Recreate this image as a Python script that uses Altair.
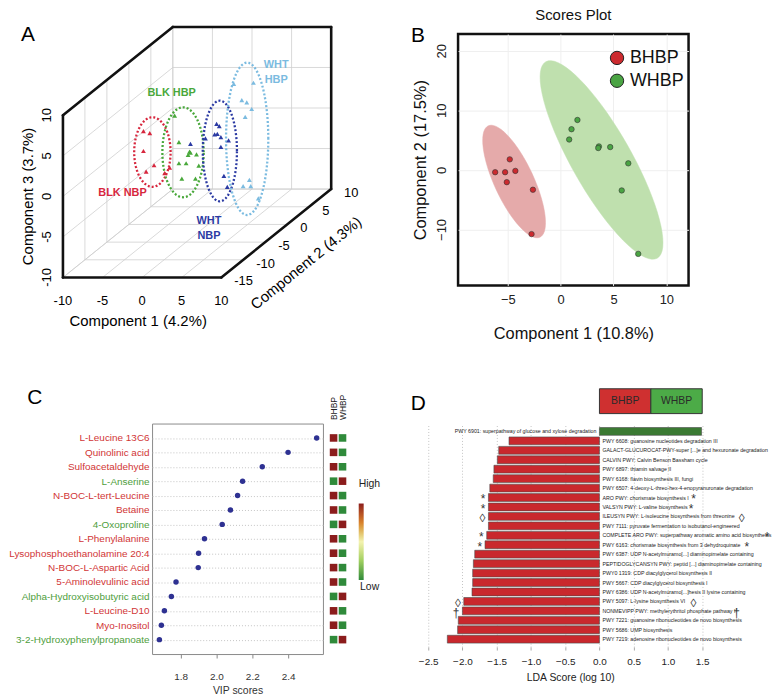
import json
import numpy as np
import pandas as pd
import altair as alt

FONT = "Liberation Sans"

# ======================= Panel A : 3-D scores =======================
a_groups = ["BLK NBP", "BLK HBP", "WHT NBP", "WHT HBP"]
a_colors = ["#d7263d", "#49a83b", "#2b3aa3", "#7bbbe0"]
a_depth = [0.0, 0.0, 0.0, 0.0]          # Component 2 (depth) of each group

a_blk_nbp_c1 = [-8.16, -7.36, -8.16, -6.82, -7.82, -5.48, -4.85]
a_blk_nbp_c3 = [1.51, 1.26, -0.94, -2.70, -3.48, -3.68, -2.99]
a_blk_hbp_c1 = [-4.22, -3.68, -2.34, -2.52, -1.46, -2.22, -3.68, -2.77, -1.17, -3.31, -1.59]
a_blk_hbp_c3 = [3.43, 0.16, -1.03, -1.43, -1.35, -1.15, -2.45, -2.45, -2.75, -4.34, -4.34]
a_wht_nbp_c1 = [-2.22, -0.33, 1.08, 1.42, 0.83, 1.17, 1.62, 1.62, 2.59, 2.00, 2.43]
a_wht_nbp_c3 = [-0.05, 0.61, 2.40, 2.12, 1.10, 1.18, 0.77, -0.42, 0.37, -4.01, -5.36]
a_wht_hbp_c1 = [3.25, 5.73, 4.26, 4.89, 5.51, 4.69, 5.22, 4.43, 5.39, 6.35]
a_wht_hbp_c3 = [7.35, 7.48, 5.34, 5.06, 4.24, 3.26, -4.50, -5.27, -5.27, -6.79]

a_ell_c1 = [-7.03, -3.16, 1.49, 4.94]
a_ell_c3 = [-1.07, -1.10, -0.94, 0.56]
a_ell_r1 = [2.30, 2.61, 2.16, 2.67]
a_ell_r3 = [4.29, 5.55, 6.21, 9.40]

a_lab_text = ["BLK NBP", "BLK HBP", "WHT\nNBP", "WHT\nHBP"]
a_lab_c1 = [-10.8, -4.6, 0.12, 8.61]
a_lab_c3 = [-6.18, 6.2, -9.55, 9.69]

a_x_ticks = [-10, -5, 0, 5, 10]
a_y_ticks = [-15, -10, -5, 0, 5, 10]
a_z_ticks = [-10, -5, 0, 5, 10]
a_titles = ["Component 1 (4.2%)", "Component 2 (4.3%)", "Component 3 (3.7%)"]

# ======================= Panel B : 2-D scores =======================
b_classes = ["BHBP", "WHBP"]
b_colors = ["#cc2a2f", "#4aa443"]
b_bhbp_c1 = [-4.81, -6.19, -5.25, -4.28, -5.09, -2.62, -2.75]
b_bhbp_c2 = [1.77, -0.39, -0.39, -0.17, -2.06, -3.33, -10.78]
b_whbp_c1 = [1.59, 1.03, 0.81, 3.62, 3.56, 4.69, 6.40, 5.78, 7.34]
b_whbp_c2 = [8.38, 6.83, 5.10, 3.94, 3.67, 3.83, 1.10, -3.45, -14.10]
# confidence ellipses: centre and covariance-like matrix
b_ell_cx = [-4.40, 3.87]
b_ell_cy = [-1.95, 1.67]
b_ell_sxx = [8.82, 33.76]
b_ell_syy = [89.3, 277.9]
b_ell_sxy = [-20.5, -80.8]
b_ell_fill = ["#e5aaaa", "#bfe0ae"]
b_x_ticks = [-5, 0, 5, 10]
b_y_ticks = [-10, 0, 10, 20]

# ======================= Panel C : VIP scores =======================
c_metabolites = ["L-Leucine 13C6", "Quinolinic acid", "Sulfoacetaldehyde", "L-Anserine",
                 "N-BOC-L-tert-Leucine", "Betaine", "4-Oxoproline", "L-Phenylalanine",
                 "Lysophosphoethanolamine 20:4", "N-BOC-L-Aspartic Acid",
                 "5-Aminolevulinic acid", "Alpha-Hydroxyisobutyric acid", "L-Leucine-D10",
                 "Myo-Inositol", "3-2-Hydroxyphenylpropanoate"]
c_vip = [2.56, 2.40, 2.256, 2.146, 2.118, 2.078, 2.032, 1.933, 1.90, 1.898,
         1.774, 1.748, 1.709, 1.692, 1.681]
c_bhbp_level = [1, 1, 1, -1, 1, 1, -1, 1, 1, 1, 1, -1, 1, 1, -1]
c_whbp_level = [-1, -1, -1, 1, -1, -1, 1, -1, -1, -1, -1, 1, -1, -1, 1]
c_x_ticks = [1.8, 2.0, 2.2, 2.4]
heat_colors = ["#2f8a3a", "#9fcf60", "#f3f3b0", "#d8822c", "#8b1c1c"]

# ======================= Panel D : LDA scores =======================
d_pathways = [
    "PWY 6901: superpathway of glucose and xylose degradation",
    "PWY 6608: guanosine nucleotides degradation III",
    "GALACT-GLUCUROCAT-PWY-super [...]e and hexuronate degradation",
    "CALVIN PWY: Calvin Benson Bassham cycle",
    "PWY 6897: thiamin salvage II",
    "PWY 6168: flavin biosynthesis III, fungi",
    "PWY 6507: 4-deoxy-L-threo-hex-4-enopyranuronate degradation",
    "ARO PWY: chorismate biosynthesis I",
    "VALSYN PWY: L-valine biosynthesis",
    "ILEUSYN PWY: L-isoleucine biosynthesis from threonine",
    "PWY 7111: pyruvate fermentation to isobutanol-engineered",
    "COMPLETE ARO PWY: superpathway aromatic amino acid biosynthesis",
    "PWY 6163: chorismate biosynthesis from 3 dehydroquinate",
    "PWY 6387: UDP N-acetylmuramo[...] diaminopimelate containing",
    "PEPTIDOGLYCANSYN PWY: peptid [...] diaminopimelate containing",
    "PWY0 1319: CDP diacylglycerol biosynthesis II",
    "PWY 5667: CDP diacylglycerol biosynthesis I",
    "PWY 6386: UDP N-acetylmuramo[...]hesis II lysine containing",
    "PWY 5097: L-lysine biosynthesis VI",
    "NONMEVIPP PWY: methylerythritol phosphate pathway I",
    "PWY 7221: guanosine ribonucleotides de novo biosynthesis",
    "PWY 5686: UMP biosynthesis",
    "PWY 7219: adenosine ribonucleotides de novo biosynthesis",
]
d_lda = [1.49, -1.32, -1.47, -1.49, -1.54, -1.55, -1.60, -1.62, -1.62, -1.62, -1.62,
         -1.645, -1.67, -1.82, -1.84, -1.85, -1.85, -1.86, -1.98, -2.00, -2.06, -2.07, -2.22]
d_left_mark = ["", "", "", "", "", "", "", "*", "*", "\u25ca", "", "*",
               "*", "", "", "", "", "", "\u25ca", "\u2020", "", "", ""]
d_right_mark = ["", "", "", "", "", "", "", "*", "*", "\u25ca", "", "*",
                "*", "", "", "", "", "", "\u25ca", "\u2020", "", "", ""]
d_x_ticks = [-2.5, -2.0, -1.5, -1.0, -0.5, 0.0, 0.5, 1.0, 1.5]
d_legend_labels = ["BHBP", "WHBP"]
d_legend_from = [0.0, 0.75]
d_legend_to = [0.75, 1.5]
d_bar_colors = ["#c9282d", "#3b7a33"]
d_legend_colors = ["#cf3030", "#4cab47"]

# ======================= layout constants =======================
W_A, H_A = 300, 253
W_B, H_B = 232, 253
W_C, H_C = 172, 232
W_H = 85
W_D, H_D = 300, 225

# ---------------- Panel A construction ----------------
P_OX, P_OY = -89.7, 245.0      # pixel of the (c1,c2,c3) = (-10,-15,-10) corner
P_KX, P_KZ = 7.97, 8.16        # px per unit along Component 1 / Component 3
P_DX, P_DY = 4.424, 3.56       # px per unit along Component 2 (depth)
X0, Y0, Z0 = a_x_ticks[0], a_y_ticks[0], a_z_ticks[0]
X1, Y1, Z1 = a_x_ticks[-1], a_y_ticks[-1], a_z_ticks[-1]


def PX(c1, c2, off=0.0):
    return f"({P_OX + off}) + (({c1}) - ({X0})) * {P_KX} + (({c2}) - ({Y0})) * {P_DX}"


def PY(c2, c3, off=0.0):
    return f"({P_OY + off}) - (({c3}) - ({Z0})) * {P_KZ} - (({c2}) - ({Y0})) * {P_DY}"


SXA = alt.Scale(domain=[0, W_A], nice=False, zero=False)
SYA = alt.Scale(domain=[0, H_A], nice=False, zero=False, reverse=True)
AX = alt.X("px:Q", scale=SXA, axis=None)
AY = alt.Y("py:Q", scale=SYA, axis=None)
a_color = alt.Color("grp:N", scale=alt.Scale(domain=a_groups, range=a_colors), legend=None)


def seg_chart(segs, **mark):
    df = pd.DataFrame(segs, columns=["a1", "a2", "a3", "b1", "b2", "b3"])
    return alt.Chart(df).transform_calculate(
        px=PX("datum.a1", "datum.a2"), py=PY("datum.a2", "datum.a3"),
        qx=PX("datum.b1", "datum.b2"), qy=PY("datum.b2", "datum.b3"),
    ).mark_rule(**mark).encode(x=AX, y=AY, x2="qx:Q", y2="qy:Q")


grid = []
for t in a_x_ticks:
    grid.append((t, Y1, Z0, t, Y1, Z1))
    grid.append((t, Y0, Z0, t, Y1, Z0))
for t in a_z_ticks:
    grid.append((X0, Y1, t, X1, Y1, t))
    grid.append((X0, Y0, t, X0, Y1, t))
for t in a_y_ticks:
    grid.append((X0, t, Z0, X0, t, Z1))
    grid.append((X0, t, Z0, X1, t, Z0))
edges = [(X0, Y0, Z0, X0, Y0, Z1), (X0, Y0, Z0, X1, Y0, Z0), (X1, Y0, Z0, X1, Y1, Z0),
         (X1, Y1, Z0, X1, Y1, Z1), (X0, Y1, Z1, X1, Y1, Z1), (X0, Y0, Z1, X0, Y1, Z1)]

a_grid = seg_chart(grid, color="#cfcfcf", strokeWidth=0.8)
a_edges = seg_chart(edges, color="#111111", strokeWidth=2.6, strokeCap="round")

rows = []
for g, d, xs, zs in zip(a_groups, a_depth,
                        [a_blk_nbp_c1, a_blk_hbp_c1, a_wht_nbp_c1, a_wht_hbp_c1],
                        [a_blk_nbp_c3, a_blk_hbp_c3, a_wht_nbp_c3, a_wht_hbp_c3]):
    for x, z in zip(xs, zs):
        rows.append({"grp": g, "c1": x, "c2": d, "c3": z})
a_pts_df = pd.DataFrame(rows)
a_pts = alt.Chart(a_pts_df).transform_calculate(
    px=PX("datum.c1", "datum.c2"), py=PY("datum.c2", "datum.c3")
).mark_point(shape="triangle-up", filled=True, size=24, opacity=1).encode(x=AX, y=AY, color=a_color)

tt = np.linspace(0, 2 * np.pi, 73)[:-1]
erows = []
for g, d, cx, cz, rx, rz in zip(a_groups, a_depth, a_ell_c1, a_ell_c3, a_ell_r1, a_ell_r3):
    for i, t in enumerate(tt):
        erows.append({"grp": g, "i": i, "c1": cx + rx * np.cos(t), "c2": d, "c3": cz + rz * np.sin(t)})
a_ell = alt.Chart(pd.DataFrame(erows)).transform_calculate(
    px=PX("datum.c1", "datum.c2"), py=PY("datum.c2", "datum.c3")
).mark_line(interpolate="linear-closed", strokeWidth=2.3, strokeDash=[2, 2]).encode(
    x=AX, y=AY, color=a_color, detail="grp:N", order="i:Q")

a_lab_df = pd.DataFrame({"grp": a_groups, "txt": a_lab_text, "c1": a_lab_c1, "c2": a_depth, "c3": a_lab_c3})
a_labs = alt.Chart(a_lab_df).transform_calculate(
    px=PX("datum.c1", "datum.c2"), py=PY("datum.c2", "datum.c3")
).mark_text(fontWeight="bold", fontSize=11, lineBreak="\n", lineHeight=15, baseline="middle").encode(
    x=AX, y=AY, text="txt:N", color=a_color)

xt = pd.DataFrame({"v": a_x_ticks, "lab": [str(v) for v in a_x_ticks]})
yt = pd.DataFrame({"v": a_y_ticks, "lab": [str(v) for v in a_y_ticks]})
zt = pd.DataFrame({"v": a_z_ticks, "lab": [str(v) for v in a_z_ticks]})
a_xt = alt.Chart(xt).transform_calculate(px=PX("datum.v", Y0), py=PY(Y0, Z0, 24)).mark_text(
    fontSize=13, baseline="middle").encode(x=AX, y=AY, text="lab:N")
a_zt = alt.Chart(zt).transform_calculate(px=PX(X0, Y0, -15.6), py=PY(Y0, "datum.v")).mark_text(
    fontSize=13, baseline="middle", angle=270).encode(x=AX, y=AY, text="lab:N")
a_yt = alt.Chart(yt).transform_calculate(px=PX(X1, "datum.v", 13), py=PY("datum.v", Z0, 4)).mark_text(
    fontSize=13, baseline="middle", align="left").encode(x=AX, y=AY, text="lab:N")

t_df = pd.DataFrame({"txt": a_titles})
a_t1 = alt.Chart(t_df).transform_filter(alt.datum.txt == a_titles[0]).transform_calculate(
    px=PX((X0 + X1) / 2, Y0, -4), py=PY(Y0, Z0, 44)).mark_text(fontSize=15, baseline="middle").encode(
    x=AX, y=AY, text="txt:N")
a_t2 = alt.Chart(t_df).transform_filter(alt.datum.txt == a_titles[1]).transform_calculate(
    px=PX(X1, (Y0 + Y1) / 2, 30), py=PY((Y0 + Y1) / 2, Z0, 30)).mark_text(
    fontSize=15, baseline="middle", angle=321).encode(x=AX, y=AY, text="txt:N")
a_t3 = alt.Chart(t_df).transform_filter(alt.datum.txt == a_titles[2]).transform_calculate(
    px=PX(X0, Y0, -35.6), py=PY(Y0, (Z0 + Z1) / 2)).mark_text(
    fontSize=15, baseline="middle", angle=270).encode(x=AX, y=AY, text="txt:N")

letter_df = pd.DataFrame({"k": [0]})
a_letter = alt.Chart(letter_df).mark_text(text="A", fontSize=21, baseline="middle").encode(
    x=alt.value(-125), y=alt.value(1))
b_letter = alt.Chart(letter_df).mark_text(text="B", fontSize=21, baseline="middle").encode(
    x=alt.value(267.7), y=alt.value(1.7))

panel_a = alt.layer(a_grid, a_edges, a_ell, a_pts, a_labs, a_xt, a_zt, a_yt, a_t1, a_t2, a_t3,
                    a_letter, b_letter).properties(
    width=W_A, height=H_A, view=alt.ViewBackground(strokeOpacity=0))

# ---------------- Panel B construction ----------------
BX = alt.X("c1:Q", scale=alt.Scale(domain=[-9.7, 12.1], nice=False, zero=False),
           axis=alt.Axis(values=b_x_ticks, title="Component 1 (10.8%)", ticks=False, domain=False,
                         labelFontSize=13, labelPadding=8, titleFontSize=16.5, titleFontWeight="normal",
                         titlePadding=19, gridColor="#efefef", labelColor="#222", titleColor="#111"))
BY = alt.Y("c2:Q", scale=alt.Scale(domain=[-19.4, 22.8], nice=False, zero=False),
           axis=alt.Axis(values=b_y_ticks, title="Component 2 (17.5%)", ticks=False, domain=False,
                         labelAngle=270, labelFontSize=13, labelPadding=10, titleFontSize=16.5,
                         titleFontWeight="normal", titlePadding=7, gridColor="#efefef",
                         labelColor="#222", titleColor="#111"))

b_layers = []
for k in range(len(b_classes)):
    L = np.linalg.cholesky(np.array([[b_ell_sxx[k], b_ell_sxy[k]], [b_ell_sxy[k], b_ell_syy[k]]]))
    pts = L @ np.vstack([np.cos(tt), np.sin(tt)])
    edf = pd.DataFrame({"i": np.arange(len(tt)), "c1": b_ell_cx[k] + pts[0], "c2": b_ell_cy[k] + pts[1]})
    b_layers.append(alt.Chart(edf).mark_line(interpolate="linear-closed", fill=b_ell_fill[k],
                                             stroke=b_ell_fill[k], strokeWidth=0.5).encode(
        x=BX, y=BY, order="i:Q"))

b_df = pd.DataFrame({"c1": b_bhbp_c1 + b_whbp_c1, "c2": b_bhbp_c2 + b_whbp_c2,
                     "cls": [b_classes[0]] * len(b_bhbp_c1) + [b_classes[1]] * len(b_whbp_c1)})
b_pts = alt.Chart(b_df).mark_point(filled=True, size=30, opacity=1, stroke="#333333", strokeWidth=0.6).encode(
    x=BX, y=BY,
    color=alt.Color("cls:N", scale=alt.Scale(domain=b_classes, range=b_colors),
                    legend=alt.Legend(orient="none", legendX=151, legendY=15, title=None,
                                      labelFontSize=18, symbolSize=180, symbolType="circle",
                                      symbolStrokeColor="#222", symbolStrokeWidth=1,
                                      rowPadding=5, labelOffset=4, padding=0, labelColor="#111")))
panel_b = alt.layer(*b_layers, b_pts).properties(
    width=W_B, height=H_B,
    title=alt.TitleParams("Scores Plot", fontSize=15, fontWeight="normal", offset=11, frame="group",
                          anchor="middle", color="#111"),
    view=alt.ViewBackground(stroke="#111111", strokeWidth=2.5))

# ---------------- Panel C construction ----------------
RED_T, GREEN_T = "#d13636", "#4e9e3c"
greens = [m for m, lv in zip(c_metabolites, c_bhbp_level) if lv < 0]
label_color = {"condition": {"test": f"indexof({json.dumps(greens)}, datum.value) >= 0", "value": GREEN_T},
               "value": RED_T}
c_df = pd.DataFrame({"met": c_metabolites, "vip": c_vip})
CY = alt.Y("met:N", sort=c_metabolites, scale=alt.Scale(type="point", padding=1.08),
           axis=alt.Axis(title=None, labelFontSize=10, labelColor=label_color, ticks=False, domain=False,
                         labelPadding=3, grid=True, gridDash=[1, 2], gridColor="#c4c4c4", labelLimit=300))
CX = alt.X("vip:Q", scale=alt.Scale(domain=[1.64, 2.595], nice=False, zero=False),
           axis=alt.Axis(values=c_x_ticks, format=".1f", grid=False, tickSize=4, tickColor="#888",
                         domain=False, labelFontSize=10, labelPadding=14, labelColor="#333",
                         title="VIP scores", titleFontSize=10.5, titleFontWeight="normal",
                         titlePadding=4, titleColor="#333"))
c_pts = alt.Chart(c_df).mark_circle(size=30, color="#2e3192", opacity=1).encode(x=CX, y=CY)
c_letter = alt.Chart(letter_df).mark_text(text="C", fontSize=21, baseline="middle").encode(
    x=alt.value(-118), y=alt.value(-26))
panel_c = alt.layer(c_pts, c_letter).properties(
    width=W_C, height=H_C, view=alt.ViewBackground(stroke="#8a8a8a", strokeWidth=1))

h_df = pd.DataFrame({"met": c_metabolites * 2,
                     "grp": ["BHBP"] * len(c_metabolites) + ["WHBP"] * len(c_metabolites),
                     "level": c_bhbp_level + c_whbp_level})
h_cells = alt.Chart(h_df).mark_square(size=58, opacity=1).encode(
    x=alt.X("grp:N", sort=["BHBP", "WHBP"], scale=alt.Scale(type="point", range=[3.7, 12.7], padding=0),
            axis=alt.Axis(orient="top", labelAngle=270, title=None, domain=False, ticks=False,
                          labelFontSize=8.5, labelPadding=4, labelColor="#222")),
    y=alt.Y("met:N", sort=c_metabolites, scale=alt.Scale(type="point", padding=1.08), axis=None),
    color=alt.Color("level:Q", scale=alt.Scale(domain=[-1, 1], range=heat_colors),
                    legend=alt.Legend(orient="none", legendX=29, legendY=56, title="High",
                                      titleFontSize=10.5, titleFontWeight="normal", titleColor="#222",
                                      titlePadding=14, labelExpr="''", gradientLength=77,
                                      gradientThickness=5, direction="vertical", padding=0)))
h_low = alt.Chart(letter_df).mark_text(text="Low", fontSize=10.5, color="#222", baseline="middle").encode(
    x=alt.value(40), y=alt.value(165))
panel_h = alt.layer(h_cells, h_low).properties(width=W_H, height=H_C,
                                               view=alt.ViewBackground(strokeOpacity=0))

# ---------------- Panel D construction ----------------
d_df = pd.DataFrame({"pw": d_pathways, "lda": d_lda, "lm": d_left_mark, "rm": d_right_mark,
                     "zero": [0.0] * len(d_pathways)})
DX_SCALE = alt.Scale(domain=[-2.6, 1.75], nice=False, zero=False)
DX_AXIS = alt.Axis(values=d_x_ticks, format=".1f", grid=True, gridDash=[1, 2], gridColor="#c4c4c4",
                   domain=False, tickSize=3, tickColor="#aaa", labelFontSize=10, labelPadding=7,
                   labelOverlap=False, labelFlush=False, labelColor="#222", title="LDA Score (log 10)",
                   titleFontSize=10.5, titleFontWeight="normal", titlePadding=6, titleColor="#222")
PXU = W_D / 4.35


def dx(field):
    return alt.X(field, scale=DX_SCALE, axis=DX_AXIS)


DY = alt.Y("pw:N", sort=d_pathways, scale=alt.Scale(paddingInner=0.17, paddingOuter=0.42), axis=None)
d_base = alt.Chart(d_df).transform_calculate(cls="datum.lda < 0 ? 'BHBP' : 'WHBP'")
d_bars = d_base.mark_bar(stroke="#4a4a4a", strokeWidth=0.6).encode(
    x=dx("lda:Q"), x2="zero:Q", y=DY,
    color=alt.Color("cls:N", scale=alt.Scale(domain=d_legend_labels, range=d_bar_colors), legend=None))
d_lab_neg = d_base.transform_filter("datum.lda < 0").mark_text(
    align="left", dx=3, fontSize=5.3, color="#222", baseline="middle").encode(
    x=dx("zero:Q"), y=DY, text="pw:N")
d_lab_pos = d_base.transform_filter("datum.lda >= 0").mark_text(
    align="right", dx=-3, fontSize=5.3, color="#222", baseline="middle").encode(
    x=dx("zero:Q"), y=DY, text="pw:N")
d_lmark = d_base.transform_filter("datum.lm != ''").mark_text(
    align="right", dx=-3, dy=2, fontSize=12, color="#333", baseline="middle").encode(
    x=dx("lda:Q"), y=DY, text="lm:N")
d_rmark = d_base.transform_filter("datum.rm != ''").transform_calculate(
    rx=f"(3 + length(datum.pw) * 2.55 + 5) / {PXU}").mark_text(
    align="center", dy=2, fontSize=12, color="#333", baseline="middle").encode(
    x=dx("rx:Q"), y=DY, text="rm:N")
leg_df = pd.DataFrame({"lab": d_legend_labels, "x0": d_legend_from, "x1": d_legend_to})
d_leg = alt.Chart(leg_df).mark_rect(stroke="#333", strokeWidth=1).encode(
    x=dx("x0:Q"), x2="x1:Q", y=alt.value(-35), y2=alt.value(-10),
    fill=alt.Fill("lab:N", scale=alt.Scale(domain=d_legend_labels, range=d_legend_colors), legend=None))
d_leg_txt = alt.Chart(leg_df).transform_calculate(xm="(datum.x0 + datum.x1) / 2").mark_text(
    fontSize=10.5, color="#2a2a2a", baseline="middle").encode(
    x=dx("xm:Q"), y=alt.value(-22.5), text="lab:N")
d_letter = alt.Chart(letter_df).mark_text(text="D", fontSize=21, baseline="middle").encode(
    x=alt.value(-3), y=alt.value(-20))
panel_d = alt.layer(d_bars, d_lab_neg, d_lab_pos, d_lmark, d_rmark, d_leg, d_leg_txt, d_letter).properties(
    width=W_D, height=H_D, view=alt.ViewBackground(strokeOpacity=0))

# ---------------- assemble ----------------
top = alt.hconcat(panel_a, panel_b, spacing=8, bounds="flush").resolve_scale(color="independent")
bottom = alt.hconcat(panel_c, panel_h, panel_d, spacing=7, bounds="flush").resolve_scale(
    color="independent", fill="independent")
chart = alt.vconcat(top, bottom, spacing=43).resolve_scale(color="independent", fill="independent").properties(
    padding={"left": 0, "top": -4, "right": 0, "bottom": 0}
).configure(font=FONT).configure_view(strokeWidth=0)

chart.save("out.html", embed_options={"renderer": "svg", "actions": False})
